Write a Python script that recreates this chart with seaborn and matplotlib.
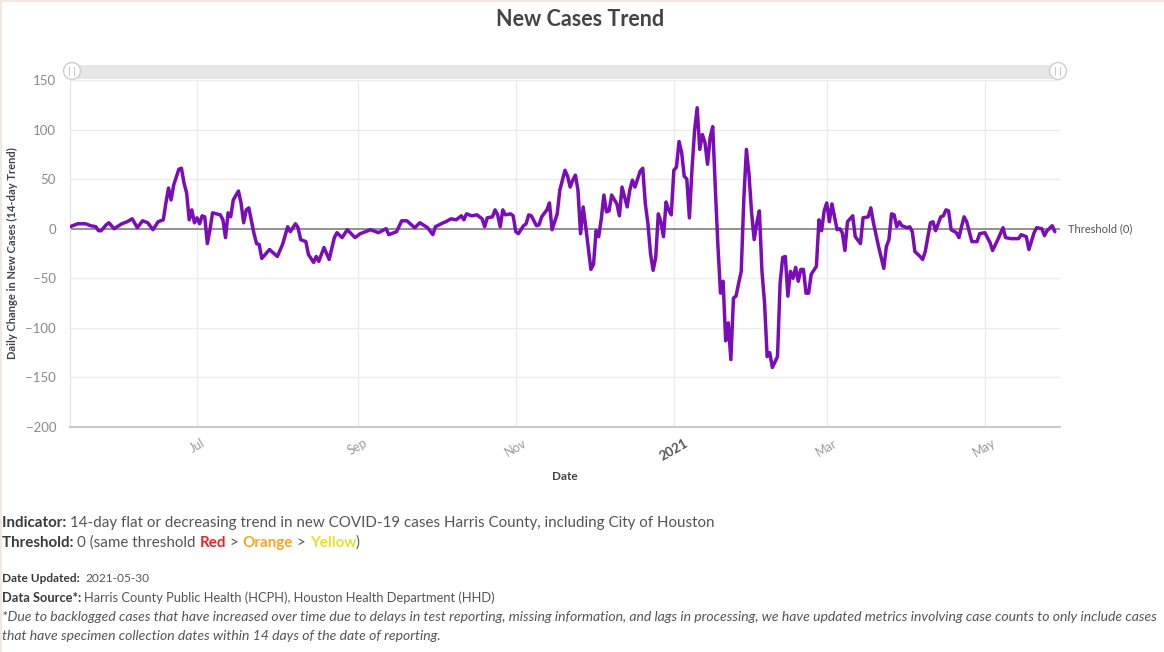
import pandas as pd
import numpy as np
import matplotlib
matplotlib.use("Agg")
import matplotlib.pyplot as plt
from matplotlib.patches import FancyBboxPatch, Circle, Rectangle
import seaborn as sns

# data: days since 2020-05-13 and the 14-day trend value
start_date = "2020-05-13"
day_offsets = [
    0, 3, 6, 8, 10, 11, 12, 14, 15, 17, 20, 22, 24, 26, 28, 30, 32, 34, 36, 37,
    38, 39, 40, 42, 43, 44, 45, 46, 47, 48, 49, 50, 51, 52, 53, 54, 55, 58, 59, 60,
    61, 62, 63, 65, 66, 67, 68, 69, 71, 72, 73, 74, 77, 80, 82, 84, 85, 87, 88, 89,
    91, 92, 94, 95, 96, 98, 100, 102, 103, 105, 107, 110, 112, 116, 119, 122, 123, 126, 128, 130,
    133, 135, 138, 140, 141, 144, 145, 147, 149, 151, 152, 153, 155, 157, 159, 160, 161, 163, 164, 165,
    166, 167, 168, 170, 171, 172, 173, 175, 176, 177, 178, 180, 181, 182, 184, 185, 186, 188, 189, 191,
    192, 193, 194, 195, 196, 197, 198, 199, 201, 202, 203, 204, 205, 206, 207, 208, 209, 211, 212, 213,
    214, 215, 216, 217, 218, 220, 221, 222, 223, 224, 225, 226, 227, 228, 229, 230, 231, 232, 233, 234,
    235, 236, 237, 238, 239, 240, 241, 242, 243, 244, 245, 246, 247, 248, 249, 250, 251, 252, 253, 254,
    255, 256, 257, 258, 259, 260, 261, 262, 263, 264, 265, 266, 267, 268, 269, 270, 271, 273, 274, 275,
    276, 277, 278, 279, 280, 281, 282, 283, 284, 285, 286, 288, 289, 290, 291, 292, 293, 294, 296, 297,
    298, 299, 300, 302, 303, 305, 306, 308, 309, 310, 312, 314, 315, 316, 317, 318, 319, 320, 321, 323,
    324, 325, 326, 328, 329, 330, 332, 333, 334, 336, 337, 338, 339, 340, 342, 343, 344, 345, 346, 348,
    350, 351, 353, 355, 356, 358, 360, 361, 363, 366, 367, 369, 370, 372, 373, 375, 376, 377, 379, 380,
]
trend_values = [
    2, 5, 5, 3, 2, -2, -2, 4, 6, 0, 5, 7, 10, 1, 8, 6, -1, 7, 9, 26,
    41, 29, 44, 60, 61, 46, 36, 9, 19, 6, 11, 5, 13, 12, -15, -1, 16, 14, 9, -9,
    16, 12, 29, 38, 26, 6, 19, 21, -5, -15, -16, -30, -21, -28, -16, 2, -3, 5, 1, -11,
    -13, -26, -34, -28, -33, -19, -31, -9, -4, -9, -1, -9, -5, -1, -4, 0, -6, -3, 8, 8,
    1, 6, 1, -6, 2, 6, 7, 10, 9, 13, 9, 15, 13, 14, 10, 2, 11, 12, 19, 14,
    2, 19, 14, 15, 13, -3, -5, 3, 5, 14, 13, 3, 4, 12, 19, 26, -1, 15, 39, 59,
    53, 42, 49, 54, 39, -5, 22, 2, -41, -36, -2, -8, 10, 34, 17, 18, 34, 25, 13, 42,
    32, 22, 39, 49, 42, 58, 61, 25, 5, -25, -42, -29, 15, 7, -8, 27, 19, 14, 59, 62,
    88, 77, 53, 50, 11, 60, 99, 122, 80, 95, 87, 65, 92, 103, 41, -17, -65, -53, -113, -95,
    -132, -70, -68, -55, -43, 30, 80, 55, 16, -11, 6, 18, -43, -75, -129, -125, -140, -129, -55, -29,
    -28, -68, -43, -50, -39, -53, -41, -41, -65, -65, -46, -38, 9, -2, 18, 26, 7, 25, -1, 0,
    -4, -22, 7, 13, -8, -15, 11, 12, 21, 6, -18, -40, -18, -11, 15, 14, 2, 7, 3, 1,
    2, -3, -23, -28, -31, -23, 6, 7, -2, 12, 13, 19, 18, -1, -4, -9, 2, 12, 7, -13,
    -13, -5, -4, -14, -22, -11, 1, -9, -10, -10, -6, -8, -21, -4, 1, 0, -7, -2, 3, -3,
]
tick_dates = ["2020-07-01", "2020-09-01", "2020-11-01", "2021-01-01", "2021-03-01", "2021-05-01"]
tick_labels = ["Jul", "Sep", "Nov", "2021", "Mar", "May"]
threshold = 0

df = pd.DataFrame({
    "date": pd.Timestamp(start_date) + pd.to_timedelta(day_offsets, unit="D"),
    "trend": trend_values,
})

sns.set_style("white")
plt.rcParams["font.family"] = ["Lato", "DejaVu Sans"]

W, H = 1164, 652
fig = plt.figure(figsize=(W / 100, H / 100), dpi=100)
ax = fig.add_axes([70 / W, 1 - 427 / H, 990 / W, 347 / H])

sns.lineplot(data=df, x="date", y="trend", ax=ax, color="#7a0db8", linewidth=2.5,
             estimator=None, sort=False, zorder=3)
ax.axhline(threshold, color="#8a8a8a", linewidth=1.3, zorder=2)

ax.set_xlim(pd.Timestamp("2020-05-13"), pd.Timestamp("2021-05-30"))
ax.set_ylim(-200, 150)
ax.set_yticks(np.arange(-200, 151, 50))
ax.tick_params(axis="y", length=0, pad=10, labelsize=9.5, labelcolor="#8a8a8a")
ax.set_xticks(pd.to_datetime(tick_dates))
ax.set_xticklabels(tick_labels)
ax.tick_params(axis="x", length=6, color="#cccccc", pad=1, labelsize=9, labelcolor="#9a9a9a")
for lab in ax.get_xticklabels():
    lab.set_rotation(30)
    lab.set_ha("center")
    if lab.get_text() == "2021":
        lab.set_fontweight("bold")
        lab.set_color("#555555")
        lab.set_fontsize(9.5)

ax.grid(True, color="#ebebeb", linewidth=1)
for side in ["top", "right"]:
    ax.spines[side].set_visible(False)
ax.spines["left"].set_color("#e0e0e0")
ax.spines["bottom"].set_color("#cccccc")
ax.spines["bottom"].set_linewidth(1.5)

ax.set_xlabel("Date", fontsize=8.5, fontweight="bold", color="#444444", labelpad=6)
ax.set_ylabel("Daily Change in New Cases (14-day Trend)", fontsize=8, fontweight="bold",
              color="#444444")
ax.yaxis.set_label_coords(-52 / 990, 0.5)
ax.text(1.008, threshold, "Threshold (0)", transform=ax.get_yaxis_transform(),
        va="center", ha="left", fontsize=8, color="#555555")

fig.text(580 / W, 1 - 20 / H, "New Cases Trend", ha="center", va="center",
         fontsize=15.5, fontweight="bold", color="#444444")

# navigator bar above the plot
bar = FancyBboxPatch((70 / W, 1 - 79 / H), 992 / W, 14 / H,
                     boxstyle="round,pad=0,rounding_size=0.006", transform=fig.transFigure,
                     facecolor="#e6e6e6", edgecolor="none")
fig.patches.append(bar)
for hx in [72, 1058]:
    c = Circle((hx / 100, (H - 71) / 100), 0.085, transform=fig.dpi_scale_trans,
               facecolor="white", edgecolor="#cfcfcf", linewidth=1)
    fig.patches.append(c)
    fig.text(hx / W, 1 - 71 / H, "| |", ha="center", va="center", fontsize=5.5,
             color="#aaaaaa", family="DejaVu Sans")

# faint frame on left and top edge
fig.patches.append(Rectangle((0, 0), 2 / W, 1, transform=fig.transFigure,
                             facecolor="#efe9e2", edgecolor="none"))
fig.patches.append(Rectangle((0, 1 - 2 / H), 1, 2 / H, transform=fig.transFigure,
                             facecolor="#efe9e2", edgecolor="none"))

renderer = fig.canvas.get_renderer()


def rich_line(x_px, y_px, parts, size):
    x = x_px / W
    for text, color, weight, style in parts:
        t = fig.text(x, 1 - y_px / H, text, color=color, fontsize=size, fontweight=weight,
                     style=style, va="center", ha="left")
        x += t.get_window_extent(renderer=renderer).width / W


dark = "#3a3a3a"
grey = "#555555"
rich_line(2, 523, [("Indicator: ", dark, "bold", "normal"),
                   ("14-day flat or decreasing trend in new COVID-19 cases Harris County, including City of Houston",
                    grey, "normal", "normal")], 10.9)
rich_line(2, 543, [("Threshold: ", dark, "bold", "normal"),
                   ("0 (same threshold ", grey, "normal", "normal"),
                   ("Red", "#e3262b", "bold", "normal"),
                   (" > ", grey, "normal", "normal"),
                   ("Orange", "#f5a623", "bold", "normal"),
                   (" > ", grey, "normal", "normal"),
                   ("Yellow", "#e2e22a", "bold", "normal"),
                   (")", grey, "normal", "normal")], 10.9)
rich_line(2, 579, [("Date Updated:  ", dark, "bold", "normal"),
                   ("2021-05-30", grey, "normal", "normal")], 8.6)
rich_line(2, 598, [("Data Source*: ", dark, "bold", "normal"),
                   ("Harris County Public Health (HCPH), Houston Health Department (HHD)",
                    grey, "normal", "normal")], 9.3)
rich_line(2, 617, [("*Due to backlogged cases that have increased over time due to delays in test reporting, "
                    "missing information, and lags in processing, we have updated metrics involving case counts "
                    "to only include cases", grey, "normal", "italic")], 10.1)
rich_line(2, 636, [("that have specimen collection dates within 14 days of the date of reporting.",
                    grey, "normal", "italic")], 10.1)

fig.savefig("out.png", dpi=100, facecolor="white")
